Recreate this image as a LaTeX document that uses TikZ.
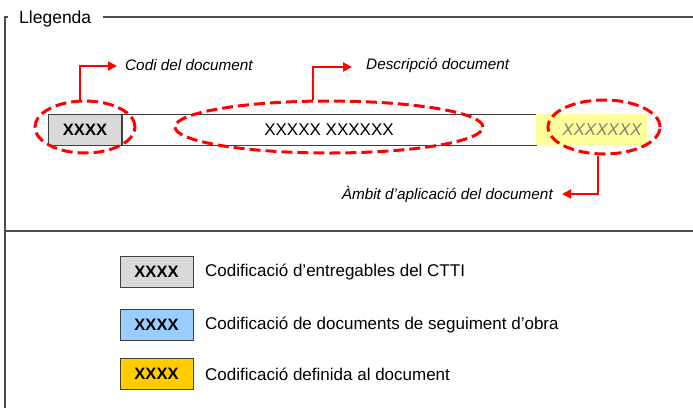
\documentclass[tikz,border=0pt]{standalone}
\usepackage{fontspec}
\setmainfont{Liberation Sans}
\usetikzlibrary{shapes.geometric,arrows.meta}
\definecolor{codegray}{HTML}{D9D9D9}
\definecolor{codeblue}{HTML}{99CCFF}
\definecolor{codeorange}{HTML}{FFCC00}
\definecolor{paleyellow}{HTML}{FFFF99}
\definecolor{notered}{HTML}{FF0000}

\begin{document}
\begin{tikzpicture}
  [x=1pt,y=-1pt]
      \tikzstyle{frame_line} = [draw=black!70, line width=1.2pt]
      \tikzstyle{code_box} = [draw=black!75, line width=1pt, minimum width=73pt, minimum height=31pt, inner sep=0pt, font=\fontsize{16.5}{19}\selectfont\bfseries]
      \tikzstyle{ring_style} = [ellipse, draw=notered, line width=3pt, dash pattern=on 11pt off 5pt, inner sep=0pt]
      \tikzstyle{note_arrow} = [draw=notered, line width=1.8pt, -{Triangle[length=9pt,width=9pt]}]
      \tikzstyle{note_text} = [anchor=west, inner sep=2pt, font=\fontsize{15.3}{18}\selectfont\itshape]
      \tikzstyle{legend_text} = [anchor=west, inner sep=2pt, font=\fontsize{17}{20}\selectfont]
  \useasboundingbox (0,0) rectangle (693,408);

  % frame of the legend
  \node[anchor=base west, inner sep=0pt, font=\fontsize{17.5}{20}\selectfont] (title) at (19,23) {Llegenda};
  \coordinate (c0) at (8,17);
  \coordinate (c1) at (5,17);
  \coordinate (c2) at (5,408);
  \coordinate (c3) at (103,17);
  \coordinate (c4) at (693,17);
  \coordinate (c5) at (5,231);
  \coordinate (c6) at (693,231);
  \draw[frame_line] (c0) -- (c1) -- (c2);
  \draw[frame_line] (c3) -- (c4);
  \draw[frame_line] (c5) -- (c6);

  % document code
  \node[code_box, fill=codegray] (n1) at (85,129.5) {XXXX};
  \node[draw=black!75, line width=1pt, minimum width=414pt, minimum height=31pt, inner sep=0pt, font=\fontsize{17}{20}\selectfont] (n2) at (329,129.5) {XXXXX XXXXXX};
  \node[fill=paleyellow, minimum width=111pt, minimum height=31pt, inner sep=0pt] (n3) at (591.5,129.5) {};
  \node[inner sep=0pt, text=black!50, font=\fontsize{17}{20}\selectfont\itshape] (n3t) at (602,129.5) {XXXXXXX};

  % rings and notes
  \node[ring_style, minimum width=100pt, minimum height=52pt] (r1) at (85,127) {};
  \node[ring_style, minimum width=308pt, minimum height=52pt] (r2) at (329,127) {};
  \node[ring_style, minimum width=112pt, minimum height=54pt] (r3) at (604,127) {};

  \node[note_text] (t1) at (123,65) {Codi del document};
  \node[note_text] (t2) at (364,65) {Descripció document};
  \node[note_text, anchor=east] (t3) at (555,194) {Àmbit d’aplicació del document};

  \draw[note_arrow] ([xshift=-5pt]r1.north) |- ([xshift=-6pt,yshift=-1pt]t1.west);
  \draw[note_arrow] ([xshift=-16pt]r2.north) |- ([xshift=-12pt,yshift=-2pt]t2.west);
  \draw[note_arrow] ([xshift=-6pt]r3.south) |- ([xshift=7pt]t3.east);

  % colour key
  \node[code_box, fill=codegray] (k1) at (156.5,272) {XXXX};
  \node[code_box, fill=codeblue] (k2) at (156.5,324.5) {XXXX};
  \node[code_box, fill=codeorange] (k3) at (156.5,374) {XXXX};
  \node[legend_text] (l1) at (203,272) {Codificació d’entregables del CTTI};
  \node[legend_text] (l2) at (203,324.5) {Codificació de documents de seguiment d’obra};
  \node[legend_text] (l3) at (203,374) {Codificació definida al document};
\end{tikzpicture}
\end{document}
